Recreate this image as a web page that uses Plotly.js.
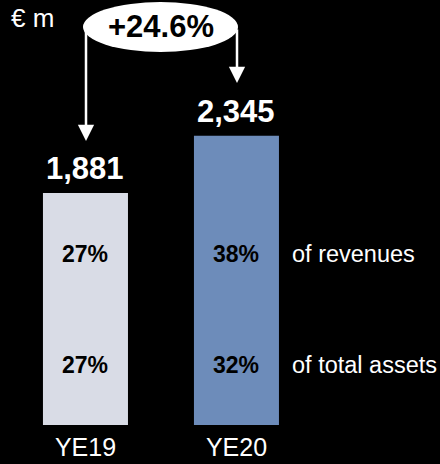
<!DOCTYPE html>
<html><head><meta charset="utf-8">
<script src="https://cdn.plot.ly/plotly-3.0.1.min.js"></script>
<style>html,body{margin:0;padding:0;background:#000;}#chart{width:440px;height:464px;}</style>
</head><body><div id="chart"></div>
<script>
const categories = ["YE19", "YE20"];
const values = [1881, 2345];
const valueLabels = ["1,881", "2,345"];
const revenueShare = ["27%", "38%"];
const assetShare = ["27%", "32%"];
const sideLabels = ["of revenues", "of total assets"];
const growthLabel = "+24.6%";
const unitLabel = "€ m";
const barColors = ["#d9dce6", "#6d8cba"];

const FONT = "Liberation Sans, Arial, sans-serif";
const W = 440, H = 464, B = 39, PH = H - B;
const px = v => v / W;            // pixel x -> paper
const py = v => (PH - v) / PH;    // pixel y -> paper
const rowRev = py(254), rowAss = py(365);

const ann = [];
categories.forEach((c, i) => {
  ann.push({x: i, y: values[i], xref: 'x', yref: 'y', text: valueLabels[i], showarrow: false,
    yanchor: 'bottom', yshift: 5, font: {family: FONT, size: 31, color: '#fff', weight: 'bold'}});
  ann.push({x: i, y: rowRev, xref: 'x', yref: 'paper', text: revenueShare[i], showarrow: false,
    yanchor: 'middle', font: {family: FONT, size: 23, color: '#000', weight: 'bold'}});
  ann.push({x: i, y: rowAss, xref: 'x', yref: 'paper', text: assetShare[i], showarrow: false,
    yanchor: 'middle', font: {family: FONT, size: 23, color: '#000', weight: 'bold'}});
});
sideLabels.forEach((t, k) => {
  ann.push({x: px(290), y: k === 0 ? rowRev : rowAss, xref: 'paper', yref: 'paper', text: t, showarrow: false,
    xanchor: 'left', yanchor: 'middle', font: {family: FONT, size: 23.5, color: '#fff'}});
});
ann.push({x: px(9), y: py(18), xref: 'paper', yref: 'paper', text: unitLabel, showarrow: false,
  xanchor: 'left', yanchor: 'middle', font: {family: FONT, size: 26, color: '#fff'}});
ann.push({x: px(160.5), y: py(27), xref: 'paper', yref: 'paper', text: growthLabel, showarrow: false,
  xanchor: 'center', yanchor: 'middle', font: {family: FONT, size: 31, color: '#000', weight: 'bold'}});
// arrows
ann.push({x: px(86), y: py(141), xref: 'paper', yref: 'paper', text: '', showarrow: true,
  ax: 0, ay: -113, arrowhead: 2, arrowsize: 1.3, arrowwidth: 2.5, arrowcolor: '#fff', standoff: 0});
ann.push({x: px(237), y: py(83), xref: 'paper', yref: 'paper', text: '', showarrow: true,
  ax: 0, ay: -55, arrowhead: 2, arrowsize: 1.3, arrowwidth: 2.5, arrowcolor: '#fff', standoff: 0});

const data = [{
  type: 'bar', x: categories, y: values, width: 0.563,
  marker: {color: barColors, line: {width: 0}}, hoverinfo: 'none'
}];

const layout = {
  width: W, height: H,
  margin: {l: 0, r: 0, t: 0, b: B, pad: 0},
  paper_bgcolor: '#000', plot_bgcolor: '#000',
  showlegend: false,
  xaxis: {type: 'category', range: [-0.566, 2.348], showgrid: false, zeroline: false, showline: false,
    ticks: '', ticklabelstandoff: 5, tickfont: {family: FONT, size: 25, color: '#fff'}, fixedrange: true},
  yaxis: {range: [0, 3446], visible: false, fixedrange: true},
  shapes: [{type: 'circle', xref: 'paper', yref: 'paper', x0: px(83), x1: px(238), y0: py(52), y1: py(2),
    fillcolor: '#fff', line: {width: 0}, layer: 'above'}],
  annotations: ann
};
Plotly.newPlot('chart', data, layout, {displayModeBar: false, staticPlot: true});
</script></body></html>
